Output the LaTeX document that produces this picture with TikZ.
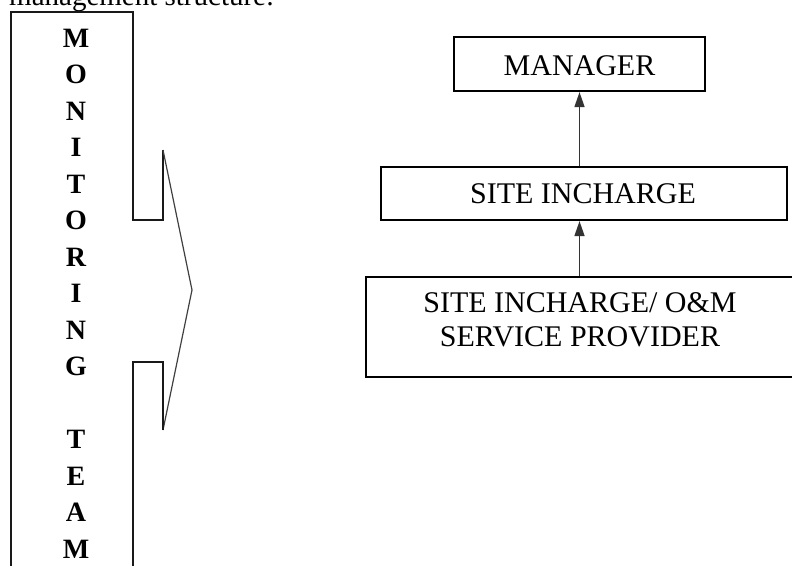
\documentclass[tikz,border=0pt]{standalone}
\usepackage{fontspec}
\setmainfont{Liberation Serif}
\usetikzlibrary{arrows.meta}
\begin{document}
\begin{tikzpicture}[x=1pt,y=-1pt,
  frame/.style={line width=2pt,draw=black!90},
  diag/.style={line width=1.2pt,draw=black!75},
  box/.style={draw=black,line width=2.2pt,rectangle,inner sep=0pt},
  boxtext/.style={font=\fontsize{30}{34}\selectfont,align=center,inner sep=0pt},
  letter/.style={font=\fontsize{28}{34}\bfseries\selectfont,inner sep=0pt},
  arr/.style={draw=black!80,line width=1.5pt,-{Triangle[length=15pt,width=10pt]}}]
\useasboundingbox (0,0) rectangle (792,565);
\clip (0,0) rectangle (792,565);
% caption fragment
\node[anchor=base west,inner sep=0pt,font=\fontsize{29}{34}\selectfont] (cap) at (9,5) {management structure:};
% monitoring team column with arrow
\draw[frame] (11,580) -- (11,12) -- (133,12) -- (133,220) -- (163,220) -- (163,150);
\draw[diag] (163,150) -- (192,290) -- (163,430);
\draw[frame] (163,430) -- (163,362) -- (133,362) -- (133,580);
\foreach \ch [count=\i from 0] in {M,O,N,I,T,O,R,I,N,G,{},T,E,A,M}{
  \node[letter] (l\i) at (76,{38+36.5*\i}) {\ch};
}
% hierarchy boxes
\node[box,minimum width=251pt,minimum height=54pt] (m) at (579.5,64) {};
\node[boxtext] (mt) at (579.5,66) {MANAGER};
\node[box,minimum width=406pt,minimum height=53pt] (s) at (584,193.5) {};
\node[boxtext] (st) at (583,194) {SITE INCHARGE};
\node[box,minimum width=428pt,minimum height=100pt] (o) at (580,327) {};
\node[boxtext] (ot) at (580,319.5) {SITE INCHARGE/ O\&M\\SERVICE PROVIDER};
% connectors
\draw[arr] (o.north -| m.south) -- (s.south -| m.south);
\draw[arr] (s.north -| m.south) -- (m.south);
\end{tikzpicture}
\end{document}
